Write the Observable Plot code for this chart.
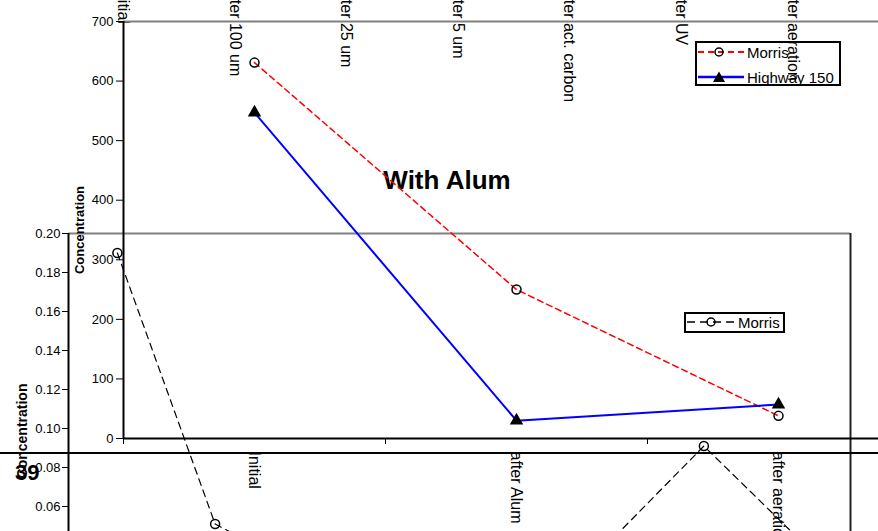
<!DOCTYPE html>
<html><head><meta charset="utf-8">
<script src="https://cdn.jsdelivr.net/npm/d3@7"></script>
<script src="https://cdn.jsdelivr.net/npm/@observablehq/plot@0.6"></script>
<style>
html,body{margin:0;padding:0;background:#fff;overflow:hidden;}
#stage{position:relative;width:878px;height:531px;overflow:hidden;font-family:"Liberation Sans",Arial,sans-serif;color:#000;}
#stage > svg{position:absolute;left:0;top:0;}
.abs{position:absolute;white-space:nowrap;line-height:1;}
</style></head><body><div id="stage"></div>
<script>
// ---- Chart "With Alum" (front) ----
const categoriesA = ["Initial", "after Alum", "after aeration"];
const morrisA = [631, 250, 38];
const highwayA = [547, 30, 57];
const ticksA = [0, 100, 200, 300, 400, 500, 600, 700];

// ---- Chart behind (top, only its rotated category labels show) ----
const categoriesB = ["Initial", "after 100 um", "after 25 um", "after 5 um", "after act. carbon", "after UV", "after aeration"];

// ---- Lower chart (Morris, 8 stages) ----
const stagesC = [1, 2, 3, 4, 5, 6, 7, 8];
const morrisC = [0.190, 0.051, 0.025, 0.020, 0.030, 0.040, 0.091, 0.042];
const ticksC = [0.02, 0.04, 0.06, 0.08, 0.10, 0.12, 0.14, 0.16, 0.18, 0.20];

const seriesNames = ["Morris", "Highway 150"];
const titleA = "With Alum";
const yTitle = "Concentration";
const pageNumber = "39";

const FONT = '"Liberation Sans", Arial, sans-serif';
const stage = document.getElementById("stage");

const dataA = categoriesA.map((c, i) => ({i, c, morris: morrisA[i], highway: highwayA[i]}));
const dataB = categoriesB.map((c, i) => ({i, c}));
const dataC = stagesC.map((s, i) => ({i, v: morrisC[i]}));

// Lower chart
const plotC = Plot.plot({
  width: 878, height: 531,
  marginTop: 233, marginLeft: 68, marginRight: 28, marginBottom: 0,
  style: {background: "transparent", fontFamily: FONT, fontSize: "13px", maxWidth: "none", color: "#000"},
  x: {domain: [0, 8], range: [68, 850], axis: null},
  y: {domain: [0, 0.2], range: [623, 233], ticks: ticksC, tickFormat: d3.format(".2f"), tickSize: 6, tickPadding: 2, label: null},
  marks: [
    Plot.ruleY([0.2], {stroke: "#808080", strokeWidth: 2}),
    Plot.ruleX([8], {stroke: "#222", strokeWidth: 2}),
    Plot.ruleX([0], {stroke: "#000", strokeWidth: 2}),
    Plot.line(dataC, {x: d => d.i + 0.5, y: "v", stroke: "#000", strokeWidth: 1.2, strokeDasharray: "7,5"}),
    Plot.dot(dataC, {x: d => d.i + 0.5, y: "v", r: 4.5, stroke: "#000", strokeWidth: 1.5, fill: "none"})
  ]
});
stage.appendChild(plotC);

// Chart behind: top labels
const plotB = Plot.plot({
  width: 878, height: 531,
  marginTop: 0, marginLeft: 67, marginRight: 30, marginBottom: 0,
  style: {background: "transparent", fontFamily: FONT, maxWidth: "none", color: "#000"},
  x: {domain: [0, 7], range: [67, 848], axis: null},
  y: {axis: null},
  marks: [
    Plot.text(dataB, {x: d => d.i + 0.5, frameAnchor: "top", text: "c", rotate: 90, textAnchor: "start", lineAnchor: "middle", dy: -14, fontSize: 16, fill: "#000"})
  ]
});
stage.appendChild(plotB);

// Title (behind the front chart lines)
const title = document.createElement("div");
title.className = "abs";
title.textContent = titleA;
title.style.cssText += "left:447px;top:188px;transform:translate(-50%,-80%);font-weight:bold;font-size:26px;";
stage.appendChild(title);

// Front chart
const plotA = Plot.plot({
  width: 878, height: 531,
  marginTop: 21, marginLeft: 123, marginRight: 0, marginBottom: 93,
  style: {background: "transparent", fontFamily: FONT, fontSize: "13px", maxWidth: "none", color: "#000"},
  x: {domain: [0, 3], range: [123, 909], ticks: [0, 1, 2, 3], tickFormat: () => "", tickSize: 6, label: null},
  y: {domain: [0, 700], range: [438, 21], ticks: ticksA, tickSize: 7, tickPadding: 3, label: null},
  marks: [
    Plot.ruleY([700], {stroke: "#808080", strokeWidth: 2}),
    Plot.ruleX([0], {stroke: "#000", strokeWidth: 2}),
    Plot.ruleY([0], {stroke: "#000", strokeWidth: 2}),
    Plot.text(dataA, {x: d => d.i + 0.5, y: 0, text: "c", rotate: 90, textAnchor: "start", lineAnchor: "middle", dy: 13, fontSize: 16, fill: "#000"}),
    Plot.line(dataA, {x: d => d.i + 0.5, y: "morris", stroke: "#ff0000", strokeWidth: 1.5, strokeDasharray: "6,4"}),
    Plot.dot(dataA, {x: d => d.i + 0.5, y: "morris", r: 4.5, stroke: "#000", strokeWidth: 1.5, fill: "none"}),
    Plot.line(dataA, {x: d => d.i + 0.5, y: "highway", stroke: "#0000ff", strokeWidth: 2}),
    Plot.dot(dataA, {x: d => d.i + 0.5, y: "highway", r: 5, symbol: "triangle", fill: "#000", stroke: "none"})
  ]
});
stage.appendChild(plotA);

// Separator line
const sep = document.createElement("div");
sep.className = "abs";
sep.style.cssText += "left:0;top:452px;width:878px;height:2px;background:#000;";
stage.appendChild(sep);

// Y titles
function vtitle(x, y, size) {
  const t = document.createElement("div");
  t.className = "abs";
  t.textContent = yTitle;
  t.style.cssText += `left:${x}px;top:${y}px;font-weight:bold;font-size:${size}px;transform:translate(-50%,-50%) rotate(-90deg);`;
  stage.appendChild(t);
}
vtitle(79, 230, 13);
vtitle(22, 431, 14);

// page number
const pn = document.createElement("div");
pn.className = "abs";
pn.textContent = pageNumber;
pn.style.cssText += "left:15px;top:462px;font-weight:bold;font-size:22px;";
stage.appendChild(pn);

// Legends
function swatch(w, stroke, dash, sw, marker, mx) {
  const ns = "http://www.w3.org/2000/svg";
  const s = document.createElementNS(ns, "svg");
  s.setAttribute("width", w); s.setAttribute("height", 14);
  s.style.display = "block";
  const l = document.createElementNS(ns, "line");
  l.setAttribute("x1", 1); l.setAttribute("x2", w - 1); l.setAttribute("y1", 7); l.setAttribute("y2", 7);
  l.setAttribute("stroke", stroke); l.setAttribute("stroke-width", sw);
  if (dash) l.setAttribute("stroke-dasharray", dash);
  s.appendChild(l);
  if (marker === "circle") {
    const c = document.createElementNS(ns, "circle");
    c.setAttribute("cx", mx); c.setAttribute("cy", 7); c.setAttribute("r", 4);
    c.setAttribute("fill", "none"); c.setAttribute("stroke", "#000"); c.setAttribute("stroke-width", 1.5);
    s.appendChild(c);
  } else {
    const p = document.createElementNS(ns, "path");
    p.setAttribute("d", `M${mx},1.5L${mx + 6},12L${mx - 6},12Z`);
    p.setAttribute("fill", "#000");
    s.appendChild(p);
  }
  return s;
}
function legend(left, top, w, h, rows) {
  const box = document.createElement("div");
  box.className = "abs";
  box.style.cssText += `left:${left}px;top:${top}px;width:${w}px;height:${h}px;border:2px solid #000;box-sizing:border-box;`;
  rows.forEach(r => {
    const sv = r.svg;
    sv.style.position = "absolute";
    sv.style.left = r.sx + "px"; sv.style.top = (r.cy - 7) + "px";
    box.appendChild(sv);
    const t = document.createElement("div");
    t.className = "abs";
    t.textContent = r.name;
    t.style.cssText += `left:${r.tx}px;top:${r.cy}px;transform:translateY(-50%);font-size:15px;`;
    box.appendChild(t);
  });
  stage.appendChild(box);
}
legend(695, 41, 146, 45, [
  {name: seriesNames[0], svg: swatch(48, "#ff0000", "6,4", 2, "circle", 22), sx: 0, cy: 9, tx: 50},
  {name: seriesNames[1], svg: swatch(48, "#0000ff", null, 2.5, "triangle", 22), sx: 0, cy: 34, tx: 50}
]);
legend(684, 312, 101, 21, [
  {name: seriesNames[0], svg: swatch(50, "#000", "8,5", 1.5, "circle", 25), sx: 0, cy: 8, tx: 52}
]);
</script>
</body></html>
